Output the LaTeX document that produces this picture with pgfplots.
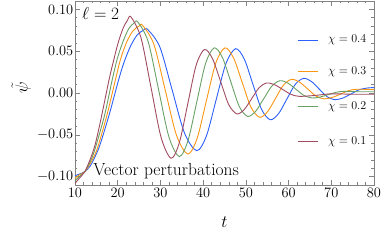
\documentclass[border=0pt]{standalone}
\usepackage{fontspec}
\usepackage{pgfplots}
\pgfplotsset{compat=1.18}
\definecolor{cblue}{RGB}{45,95,250}
\definecolor{corange}{RGB}{250,150,20}
\definecolor{cgreen}{RGB}{105,160,100}
\definecolor{cred}{RGB}{160,75,95}
\definecolor{framegray}{RGB}{130,130,130}
\begin{document}
\begin{tikzpicture}
\useasboundingbox (-75pt,-55pt) rectangle (308pt,185pt);
\begin{axis}[
 at={(0,0)}, anchor=south west,
 width=299pt, height=184pt, scale only axis,
 xmin=10, xmax=80, ymin=-0.11, ymax=0.11,
 xtick={10,20,...,80}, ytick={-0.1,-0.05,0,0.05,0.1},
 yticklabel={\pgfmathprintnumber[fixed,fixed zerofill,precision=2]{\tick}},
 minor x tick num=4, minor y tick num=4,
 tick align=inside, major tick length=5pt, minor tick length=2.5pt,
 every tick/.style={framegray, line width=0.5pt},
 axis line style={framegray, line width=0.6pt},
 tick label style={font=\fontsize{14.4}{16}\selectfont},
 yticklabel style={inner xsep=1.5pt},
 xticklabel style={inner ysep=3pt},
 xlabel={$t$}, ylabel={$\tilde{\psi}$},
 label style={font=\fontsize{17.28}{20}\selectfont},
 xlabel style={at={(axis description cs:0.5,-0.2)}, anchor=center},
 ylabel style={at={(axis description cs:-0.18,0.53)}, anchor=center},
 every axis plot/.append style={line width=0.9pt, smooth, mark=none},
]
\addplot[color=cblue] coordinates {(10,-0.099)(11,-0.097)(12.3,-0.094)(13.6,-0.087)(14.8,-0.075)(15.85,-0.062)(18,-0.026)(20.2,0.0155)(21.5,0.037)(23,0.056)(24.5,0.069)(26,0.075)(27.0,0.076)
(29.88,0.0548)(32.75,0.0035)(35.63,-0.0478)(38.5,-0.069)
(40.78,-0.0511)(43.05,-0.008)(45.33,0.0351)(47.6,0.053)
(49.63,0.0406)(51.65,0.0105)(53.68,-0.0196)(55.7,-0.032)
(57.65,-0.0247)(59.6,-0.0073)(61.55,0.0102)(63.5,0.0175)
(65.33,0.0138)(67.15,0.0048)(68.98,-0.0043)(70.8,-0.008)
(72.73,-0.006)(74.65,-0.001)(76.58,0.004)(78.5,0.006)(80,0.0065)};
\addplot[color=corange] coordinates {(10,-0.102)(11,-0.098)(12.3,-0.094)(13.6,-0.084)(14.7,-0.073)(15.5,-0.062)(17.5,-0.026)(19.45,0.0155)(20.7,0.041)(22.1,0.061)(23.6,0.0745)(25,0.080)(25.8,0.081)
(28.45,0.0584)(31.1,0.004)(33.75,-0.0504)(36.4,-0.073)
(38.58,-0.0544)(40.75,-0.0095)(42.93,0.0354)(45.1,0.054)
(47.13,0.0418)(49.15,0.0125)(51.18,-0.0168)(53.2,-0.029)
(55.08,-0.0224)(56.95,-0.0064)(58.83,0.0097)(60.7,0.0163)
(62.6,0.0129)(64.5,0.0047)(66.4,-0.0036)(68.3,-0.007)
(70.23,-0.0053)(72.15,-0.0013)(74.08,0.0028)(76,0.0045)(80,0.004)};
\addplot[color=cgreen] coordinates {(10,-0.105)(11,-0.100)(12.3,-0.094)(13.5,-0.083)(14.3,-0.073)(15.1,-0.060)(17,-0.025)(18.7,0.0155)(19.9,0.041)(21.2,0.061)(22.6,0.077)(23.8,0.0835)(24.7,0.085)
(27.13,0.0614)(29.55,0.0045)(31.98,-0.0524)(34.4,-0.076)
(36.45,-0.057)(38.5,-0.011)(40.55,0.035)(42.6,0.054)
(44.55,0.042)(46.5,0.013)(48.45,-0.016)(50.4,-0.028)
(52.3,-0.0218)(54.2,-0.0067)(56.1,0.0084)(58.0,0.0147)
(59.88,0.0117)(61.75,0.0044)(63.63,-0.003)(65.5,-0.006)
(67.4,-0.0048)(69.25,-0.002)(71.1,0.0008)(73,0.002)(76.5,0.0015)(80,0.0015)};
\addplot[color=cred] coordinates {(10,-0.108)(11,-0.102)(12.3,-0.094)(13.5,-0.080)(14.7,-0.062)(16,-0.033)(17.96,0.0155)(19,0.038)(20.1,0.060)(21.3,0.078)(22.3,0.087)(23.1,0.091)
(25.45,0.066)(27.8,0.0065)(30.15,-0.053)(32.5,-0.078)
(34.45,-0.059)(36.4,-0.013)(38.35,0.033)(40.3,0.052)
(42.2,0.041)(44.1,0.0135)(46.0,-0.014)(47.9,-0.025)
(49.65,-0.0196)(51.4,-0.0065)(53.15,0.0066)(54.9,0.012)
(56.8,0.0097)(58.7,0.004)(60.6,-0.0017)(62.5,-0.004)
(66,-0.003)(70,-0.001)(75,-0.0015)(80,-0.0015)};
% legend
\draw[cblue, line width=0.9pt] (rel axis cs:0.746,0.788) -- (rel axis cs:0.813,0.788);
\draw[corange, line width=0.9pt] (rel axis cs:0.746,0.616) -- (rel axis cs:0.813,0.616);
\draw[cgreen, line width=0.9pt] (rel axis cs:0.746,0.426) -- (rel axis cs:0.813,0.426);
\draw[cred, line width=0.9pt] (rel axis cs:0.746,0.236) -- (rel axis cs:0.813,0.236);
\node[anchor=west, inner sep=0pt, font=\fontsize{12}{14}\selectfont] at (rel axis cs:0.846,0.788) {$\chi=0.4$};
\node[anchor=west, inner sep=0pt, font=\fontsize{12}{14}\selectfont] at (rel axis cs:0.846,0.616) {$\chi=0.3$};
\node[anchor=west, inner sep=0pt, font=\fontsize{12}{14}\selectfont] at (rel axis cs:0.846,0.426) {$\chi=0.2$};
\node[anchor=west, inner sep=0pt, font=\fontsize{12}{14}\selectfont] at (rel axis cs:0.846,0.236) {$\chi=0.1$};
\node[anchor=west, font=\fontsize{17.28}{20}\selectfont] at (rel axis cs:0.012,0.93) {$\ell=2$};
\node[anchor=west, font=\fontsize{17.5}{20}\selectfont, inner sep=0pt] at (rel axis cs:0.061,0.075) {Vector perturbations};
\end{axis}
\end{tikzpicture}
\end{document}
